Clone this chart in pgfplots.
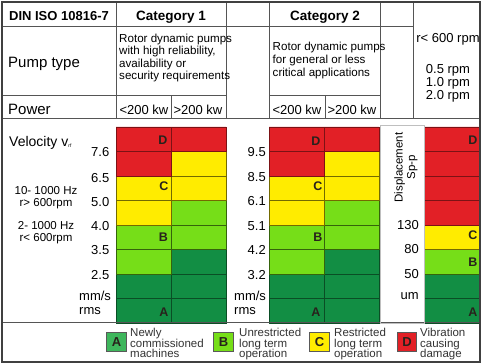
\documentclass[border=0pt]{standalone}
\usepackage{fontspec}
\setmainfont{Liberation Sans}
\usepackage{pgfplots}
\pgfplotsset{compat=1.18}
\usepackage{pgfplotstable}

\definecolor{zR}{RGB}{226,32,38}
\definecolor{zY}{RGB}{255,236,0}
\definecolor{zL}{RGB}{118,222,24}
\definecolor{zD}{RGB}{18,142,68}
\definecolor{zA}{RGB}{62,182,92}
\definecolor{gl}{RGB}{85,85,85}
\definecolor{lt}{RGB}{40,34,28}

\newcommand{\fs}[1]{\fontsize{#1}{#1}\selectfont}

% one row per bar column (x = centre in px); one column per cell, top to bottom
\pgfplotstableread{
x     base rA rB rC rD yA yB lA lB dA dB dC
143.5 127  1  1  0  0  1  1  1  1  1  1  0
198.5 127  1  0  0  0  1  1  1  1  1  1  1
296.5 127  1  1  0  0  1  1  1  1  1  1  0
351.5 127  1  0  0  0  1  1  1  1  1  1  1
452   127  1  1  1  1  1  0  1  0  1  1  0
}\zones

\begin{document}
\begin{tikzpicture}
\begin{axis}[
  set layers=standard,
  scale only axis, width=482pt, height=364pt,
  xmin=0, xmax=482, ymin=0, ymax=364, y dir=reverse,
  axis lines=none, clip=false,
  ybar stacked, bar width=55,
  every axis plot/.append style={line width=0.8pt},
]
\addplot[draw=none, fill=none] table[x=x, y=base] {\zones};
\addplot[fill=zR, draw=zR!55!black] table[x=x, y expr=24.5*\thisrow{rA}] {\zones};
\addplot[fill=zR, draw=zR!55!black] table[x=x, y expr=24.5*\thisrow{rB}] {\zones};
\addplot[fill=zR, draw=zR!55!black] table[x=x, y expr=24.5*\thisrow{rC}] {\zones};
\addplot[fill=zR, draw=zR!55!black] table[x=x, y expr=24.5*\thisrow{rD}] {\zones};
\addplot[fill=zY, draw=zY!45!black] table[x=x, y expr=24.5*\thisrow{yA}] {\zones};
\addplot[fill=zY, draw=zY!45!black] table[x=x, y expr=24.5*\thisrow{yB}] {\zones};
\addplot[fill=zL, draw=zL!45!black] table[x=x, y expr=24.5*\thisrow{lA}] {\zones};
\addplot[fill=zL, draw=zL!45!black] table[x=x, y expr=24.5*\thisrow{lB}] {\zones};
\addplot[fill=zD, draw=zD!55!black] table[x=x, y expr=24.5*\thisrow{dA}] {\zones};
\addplot[fill=zD, draw=zD!55!black] table[x=x, y expr=24.5*\thisrow{dB}] {\zones};
\addplot[fill=zD, draw=zD!55!black] table[x=x, y expr=24.5*\thisrow{dC}] {\zones};

\pgfplotsextra{\begin{pgfonlayer}{axis foreground}
% table frame
\path (axis cs:0,0) -- (axis cs:482,364);
\draw[gl, line width=1pt] (axis cs:2,27) -- (axis cs:413,27);
\foreach \xx in {116,226,269,380,413}
  {\draw[gl, line width=1pt] (axis cs:\xx,2) -- (axis cs:\xx,119);}
\draw[gl, line width=1pt] (axis cs:2,96) -- (axis cs:226,96);
\draw[gl, line width=1pt] (axis cs:269,96) -- (axis cs:380,96);
\draw[gl, line width=1pt] (axis cs:171,96) -- (axis cs:171,119);
\draw[gl, line width=1pt] (axis cs:325,96) -- (axis cs:325,119);
\draw[gl, line width=1pt] (axis cs:2,119) -- (axis cs:480,119);
\draw[gl, line width=1pt] (axis cs:2,323) -- (axis cs:480,323);
\draw[black!25, line width=0.6pt] (axis cs:380,125.5) rectangle (axis cs:424,323);
\draw[black!75, line width=1.4pt] (axis cs:2,2) rectangle (axis cs:480,362);

% header texts
\node[anchor=base, inner sep=0, font=\fs{13}\bfseries] at (axis cs:59,20.5) {DIN ISO 10816-7};
\node[anchor=base, inner sep=0, font=\fs{13.5}\bfseries] at (axis cs:171,20.5) {Category 1};
\node[anchor=base, inner sep=0, font=\fs{13.5}\bfseries] at (axis cs:325,20.5) {Category 2};
\node[anchor=base west, inner sep=0, font=\fs{15}] at (axis cs:8,68) {Pump type};
\node[anchor=base west, inner sep=0, font=\fs{15}] at (axis cs:8,114.5) {Power};
\foreach \t/\yy in {Rotor dynamic pumps/42.5, {with high reliability,}/55, availability or/67.5, security requirements/80}
  {\node[anchor=base west, inner sep=0, font=\fs{11.6}] at (axis cs:119,\yy) {\t};}
\foreach \t/\yy in {Rotor dynamic pumps/51, for general or less/64, critical applications/76.5}
  {\node[anchor=base west, inner sep=0, font=\fs{11.6}] at (axis cs:272.5,\yy) {\t};}
\foreach \t/\xx in {<200 kw/144, >200 kw/198, <200 kw/297, >200 kw/352}
  {\node[anchor=base, inner sep=0, font=\fs{13}] at (axis cs:\xx,114.5) {\t};}
\foreach \t/\yy in {r< 600 rpm/43, 0.5 rpm/74, 1.0 rpm/87, 2.0 rpm/100}
  {\node[anchor=base, inner sep=0, font=\fs{13}] at (axis cs:448,\yy) {\t};}

% left labels
\node[anchor=base west, inner sep=0, font=\fs{14}] at (axis cs:9,147) {Velocity v\raisebox{-1pt}{\fs{5}rf}};
\foreach \t/\yy in {10- 1000 Hz/195, r> 600rpm/207, 2- 1000 Hz/230, r< 600rpm/242}
  {\node[anchor=base, inner sep=0, font=\fs{11.5}] at (axis cs:46,\yy) {\t};}
\foreach \v/\yy in {7.6/156.7, 6.5/182.5, 5.0/206.5, 4.0/230.7, 3.5/255, 2.5/280}
  {\node[anchor=base east, inner sep=0, font=\fs{13}] at (axis cs:109.5,\yy) {\v};}
\node[anchor=base west, inner sep=0, font=\fs{13}] at (axis cs:79,300.7) {mm/s};
\node[anchor=base west, inner sep=0, font=\fs{13}] at (axis cs:79,315) {rms};
\foreach \v/\yy in {9.5/156.7, 8.5/181.7, 6.1/206, 5.1/230.4, 4.2/255, 3.2/280}
  {\node[anchor=base east, inner sep=0, font=\fs{13}] at (axis cs:266,\yy) {\v};}
\node[anchor=base west, inner sep=0, font=\fs{13}] at (axis cs:234,300.7) {mm/s};
\node[anchor=base west, inner sep=0, font=\fs{13}] at (axis cs:234,315) {rms};
\node[rotate=90, align=center, inner sep=0, font=\fontsize{11.5}{12.5}\selectfont] at (axis cs:406,167.5) {Displacement\\Sp-p};
\foreach \v/\yy in {130/230, 80/254, 50/279, um/300}
  {\node[anchor=base east, inner sep=0, font=\fs{13}] at (axis cs:419,\yy) {\v};}

% zone letters
\foreach \xx/\yy/\t in {163/145/D, 164/190.7/C, 163.5/242/B, 164/316.5/A,
                       316/145.5/D, 318/190.7/C, 318/241.7/B, 316/316.2/A,
                       473/145/D, 473/240/C, 473/267/B, 473/316.2/A}
  {\node[anchor=base, inner sep=0, text=lt, font=\fs{12.5}\bfseries] at (axis cs:\xx,\yy) {\t};}

% legend
\foreach \xx/\c/\t in {116.5/zA/A, 223.5/zL/B, 319.5/zY/C, 407/zR/D}
  {\node[draw=black!65, line width=0.8pt, fill=\c, minimum size=19.5pt, inner sep=0,
         text=lt, font=\fs{13}\bfseries] at (axis cs:\xx,342) {\t};}
\foreach \xx/\a/\b/\c in {130/Newly/commissioned/machines, 239/Unrestricted/long term/operation,
                          334/Restricted/long term/operation, 420/Vibration/causing/damage}
  {\node[anchor=base west, inner sep=0, font=\fs{11.5}, text=black!80] at (axis cs:\xx,336.5) {\a};
   \node[anchor=base west, inner sep=0, font=\fs{11.5}, text=black!80] at (axis cs:\xx,347.2) {\b};
   \node[anchor=base west, inner sep=0, font=\fs{11.5}, text=black!80] at (axis cs:\xx,357.8) {\c};}
\end{pgfonlayer}}
\end{axis}
\end{tikzpicture}
\end{document}
